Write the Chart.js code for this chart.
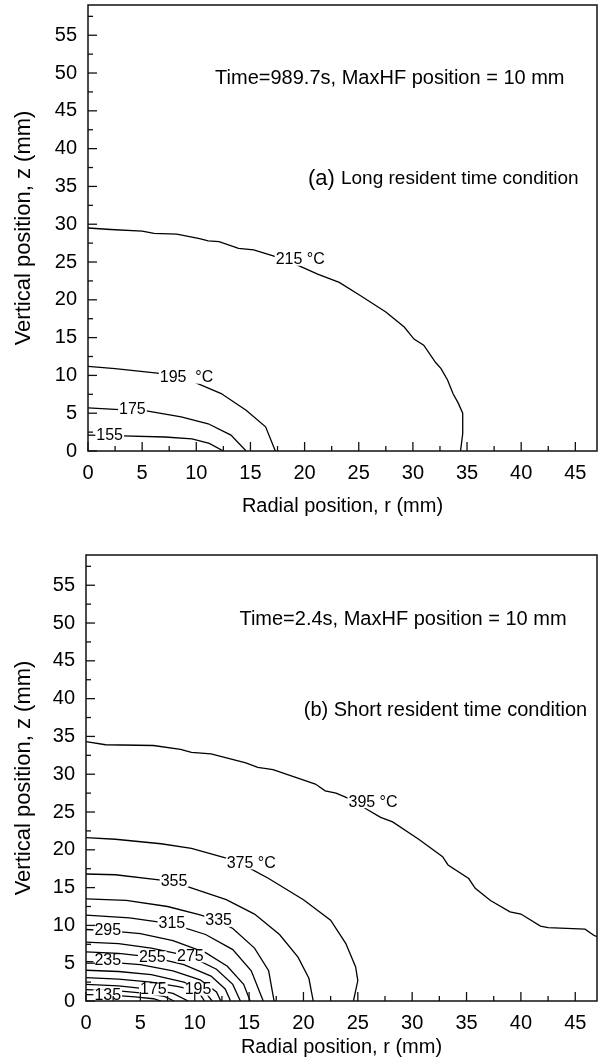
<!DOCTYPE html>
<html>
<head>
<meta charset="utf-8">
<script src="https://cdn.jsdelivr.net/npm/chart.js@4.4.0/dist/chart.umd.min.js"></script>
<style>
  html, body { margin: 0; padding: 0; background: #fff; }
  .box { position: absolute; left: 0; width: 603px; }
</style>
</head>
<body>
<div class="box" style="top:0;height:530px"><canvas id="chartA"></canvas></div>
<div class="box" style="top:530px;height:531px"><canvas id="chartB"></canvas></div>
<script>
// tick labels
var xTickLabels = [0, 5, 10, 15, 20, 25, 30, 35, 40, 45];
var yTickLabels = [0, 5, 10, 15, 20, 25, 30, 35, 40, 45, 50, 55];

// (a) long resident time, isotherms: r (mm) and z (mm)
var a215r = [0, 2.1, 5.0, 6.1, 8.2, 10.3, 11.1, 12.1, 13.9, 15.3, 17.1, 19.2, 21.2, 23.2, 25.1, 27.5, 29.2, 30.1, 31.0, 32.1, 32.6, 33.2, 33.7, 34.2, 34.6, 34.6, 34.4];
var a215z = [29.5, 29.3, 29.1, 28.8, 28.7, 28.1, 27.8, 27.7, 26.8, 26.6, 25.8, 24.7, 23.4, 22.3, 20.6, 18.4, 16.4, 14.8, 14.0, 11.7, 10.9, 9.4, 7.6, 6.3, 5.0, 2.3, 0];
var a195r = [0, 2.5, 6.4, 9.0, 12.3, 14.6, 16.4, 17.3];
var a195z = [11.2, 10.9, 10.3, 9.6, 7.6, 5.4, 3.2, 0];
var a175r = [0, 2.5, 5.4, 8.6, 11.1, 13.2, 14.6];
var a175z = [5.7, 5.5, 5.3, 4.5, 3.6, 2.1, 0];
var a155r = [0, 3.2, 7.1, 9.6, 11.2, 12.5];
var a155z = [2.1, 2.0, 1.85, 1.6, 1.0, 0];

// (b) short resident time
var b395r = [0, 1.8, 6.2, 8.7, 9.7, 11.5, 14.7, 15.8, 17.2, 21.1, 22.0, 23.0, 24.3, 25.9, 27.1, 28.2, 30.6, 32.8, 33.3, 35.2, 35.8, 37.2, 39.0, 40.0, 41.8, 42.5, 45.9, 46.7, 47];
var b395z = [34.3, 33.9, 33.8, 33.3, 32.9, 32.7, 31.5, 30.9, 30.6, 28.7, 27.8, 27.5, 26.7, 25.3, 24.3, 23.7, 21.4, 19.1, 18.0, 16.2, 14.9, 13.3, 11.8, 11.5, 9.9, 9.7, 9.5, 8.7, 8.5];
var b375r = [0, 2.7, 6.9, 9.7, 12.9, 15.0, 16.8, 20.0, 22.5, 23.9, 24.8, 25.0, 24.6];
var b375z = [21.6, 21.4, 20.8, 20.2, 18.9, 17.6, 16.2, 13.4, 10.7, 7.6, 4.5, 2.7, 0];
var b355r = [0, 2.7, 6.9, 9.4, 12.9, 15.5, 17.8, 19.5, 20.5, 20.9];
var b355z = [16.8, 16.7, 16.0, 15.1, 13.4, 11.5, 8.8, 5.8, 3.0, 0];
var b335r = [0, 3.7, 7.5, 10.5, 12.2, 13.5, 15.5, 16.8, 17.3];
var b335z = [13.5, 13.3, 12.5, 11.4, 10.6, 9.6, 7.0, 4.0, 0];
var b315r = [0, 4.0, 7.9, 11.0, 13.5, 15.2, 16.3];
var b315z = [11.35, 11.0, 10.2, 8.8, 6.8, 4.0, 0];
var b295r = [0, 2.0, 5.0, 8.0, 11.0, 13.0, 14.5, 15.1];
var b295z = [9.46, 9.3, 8.9, 8.0, 6.4, 4.6, 2.2, 0];
var b275r = [0, 3.0, 6.0, 9.6, 12.0, 13.5, 14.2];
var b275z = [7.8, 7.6, 7.0, 5.9, 4.2, 2.2, 0];
var b255r = [0, 3.0, 6.1, 9.0, 11.5, 12.8, 13.3];
var b255z = [6.5, 6.3, 5.8, 4.8, 3.3, 1.6, 0];
var b235r = [0, 2.0, 5.0, 8.0, 10.5, 12.0, 12.4];
var b235z = [5.2, 5.15, 4.8, 4.0, 2.8, 1.2, 0];
var b215r = [0, 3.0, 6.0, 9.0, 11.0, 11.6];
var b215z = [4.07, 3.9, 3.5, 2.5, 1.1, 0];
var b195r = [0, 3.0, 6.0, 8.5, 10.3, 10.9];
var b195z = [3.1, 2.9, 2.5, 1.9, 1.3, 0];
var b175r = [0, 3.0, 6.2, 8.0, 9.4];
var b175z = [2.2, 2.0, 1.5, 1.0, 0];
var b155r = [0, 3.0, 5.5, 7.2, 8.1];
var b155z = [1.5, 1.35, 1.0, 0.6, 0];
var b135r = [0, 2.0, 4.5, 6.2, 6.9];
var b135z = [0.85, 0.8, 0.55, 0.3, 0];

// contour labels: text, r, z
var aLabels = [['215 \u00b0C', 19.6, 25.3], ['195  \u00b0C', 9.1, 9.7], ['175', 4.1, 5.5], ['155', 2.0, 2.0]];
var bLabels = [['395 \u00b0C', 26.4, 26.3], ['375 \u00b0C', 15.2, 18.2], ['355', 8.1, 15.8], ['335', 12.2, 10.6],
  ['315', 7.9, 10.2], ['295', 2.0, 9.3], ['275', 9.6, 5.9], ['255', 6.1, 5.8], ['235', 2.0, 5.3],
  ['195', 10.3, 1.5], ['175', 6.2, 1.5], ['135', 2.0, 0.75]];

var FONT = '"Liberation Sans", Arial, Helvetica, sans-serif';

function line(r, z) {
  return {
    data: r.map(function (v, i) { return {x: v, y: z[i]}; }),
    showLine: true, borderColor: '#000', borderWidth: 1.3,
    pointRadius: 0, tension: 0, fill: false
  };
}

// inner tick marks + frame
var frame = {
  id: 'frame',
  afterDraw: function (chart) {
    var ctx = chart.ctx, a = chart.chartArea;
    var xs = chart.scales.x, ys = chart.scales.y;
    ctx.save();
    ctx.strokeStyle = '#111';
    ctx.lineWidth = 1.5;
    ctx.strokeRect(a.left, a.top, a.right - a.left, a.bottom - a.top);
    ctx.lineWidth = 1.3;
    xs.ticks.forEach(function (t) {
      var p = xs.getPixelForValue(t.value);
      var len = xTickLabels.indexOf(t.value) >= 0 ? 9 : 5;
      ctx.beginPath(); ctx.moveTo(p, a.bottom); ctx.lineTo(p, a.bottom - len); ctx.stroke();
    });
    ys.ticks.forEach(function (t) {
      var p = ys.getPixelForValue(t.value);
      var len = yTickLabels.indexOf(t.value) >= 0 ? 9 : 5;
      ctx.beginPath(); ctx.moveTo(a.left, p); ctx.lineTo(a.left + len, p); ctx.stroke();
    });
    ctx.restore();
  }
};

// contour labels with white gap + free text
var notes = {
  id: 'notes',
  afterDatasetsDraw: function (chart, args, opts) {
    var ctx = chart.ctx, xs = chart.scales.x, ys = chart.scales.y;
    ctx.save();
    ctx.font = '16px ' + FONT;
    ctx.textAlign = 'center';
    ctx.textBaseline = 'middle';
    opts.labels.forEach(function (l) {
      var px = xs.getPixelForValue(l[1]), py = ys.getPixelForValue(l[2]);
      var w = ctx.measureText(l[0]).width;
      ctx.fillStyle = '#fff';
      ctx.fillRect(px - w / 2 - 1, py - 6, w + 2, 12);
      ctx.fillStyle = '#000';
      ctx.fillText(l[0], px, py);
    });
    ctx.textAlign = 'right';
    opts.texts.forEach(function (t) {
      var px = xs.getPixelForValue(t.x), py = ys.getPixelForValue(t.y);
      ctx.font = t.size + 'px ' + FONT;
      ctx.fillText(t.text, px, py);
      if (t.pre) {
        var w = ctx.measureText(t.text).width;
        ctx.font = t.preSize + 'px ' + FONT;
        ctx.fillText(t.pre, px - w, py);
      }
    });
    ctx.restore();
  }
};

function makeChart(id, sets, labels, texts, top, yWidth, xHeight, titleBottom) {
  return new Chart(document.getElementById(id), {
    type: 'scatter',
    data: {datasets: sets},
    plugins: [notes, frame],
    options: {
      responsive: true,
      maintainAspectRatio: false,
      animation: false,
      layout: {padding: {top: top, right: 6, left: 0, bottom: 0}},
      plugins: {
        legend: {display: false},
        tooltip: {enabled: false},
        notes: {labels: labels, texts: texts}
      },
      scales: {
        x: {
          type: 'linear', min: 0, max: 47,
          border: {display: false},
          grid: {display: false, drawTicks: false},
          ticks: {
            stepSize: 2.5, includeBounds: false, autoSkip: false, maxRotation: 0,
            padding: 10, color: '#000', font: {family: FONT, size: 20},
            callback: function (v) { return xTickLabels.indexOf(v) >= 0 ? String(v) : ''; }
          },
          title: {display: true, text: 'Radial position, r (mm)', color: '#000',
            font: {family: FONT, size: 20}, padding: {top: 0, bottom: titleBottom}},
          afterFit: function (s) { s.height = xHeight; s.paddingLeft = 0; s.paddingRight = 0; }
        },
        y: {
          type: 'linear', min: 0, max: 59,
          border: {display: false},
          grid: {display: false, drawTicks: false},
          ticks: {
            stepSize: 2.5, includeBounds: false, autoSkip: false,
            padding: 11, color: '#000', font: {family: FONT, size: 20},
            callback: function (v) { return yTickLabels.indexOf(v) >= 0 ? String(v) : ''; }
          },
          title: {display: true, text: 'Vertical position, z (mm)', color: '#000',
            font: {family: FONT, size: 22}, padding: {top: 11, bottom: 0}},
          afterFit: function (s) { s.width = yWidth; s.paddingTop = 0; s.paddingBottom = 0; }
        }
      }
    }
  });
}

makeChart('chartA',
  [line(a215r, a215z), line(a195r, a195z), line(a175r, a175z), line(a155r, a155z)],
  aLabels,
  [{text: 'Time=989.7s, MaxHF position = 10 mm', x: 44.0, y: 49.3, size: 20},
   {text: 'Long resident time condition', pre: '(a) ', x: 45.3, y: 36.0, size: 19, preSize: 22}],
  5, 88, 79, 12);

makeChart('chartB',
  [line(b395r, b395z), line(b375r, b375z), line(b355r, b355z), line(b335r, b335z),
   line(b315r, b315z), line(b295r, b295z), line(b275r, b275z), line(b255r, b255z),
   line(b235r, b235z), line(b215r, b215z), line(b195r, b195z), line(b175r, b175z),
   line(b155r, b155z), line(b135r, b135z)],
  bLabels,
  [{text: 'Time=2.4s, MaxHF position = 10 mm', x: 44.2, y: 50.5, size: 20},
   {text: '(b) Short resident time condition', x: 46.1, y: 38.4, size: 20}],
  25, 86, 60, 2);
</script>
</body>
</html>
